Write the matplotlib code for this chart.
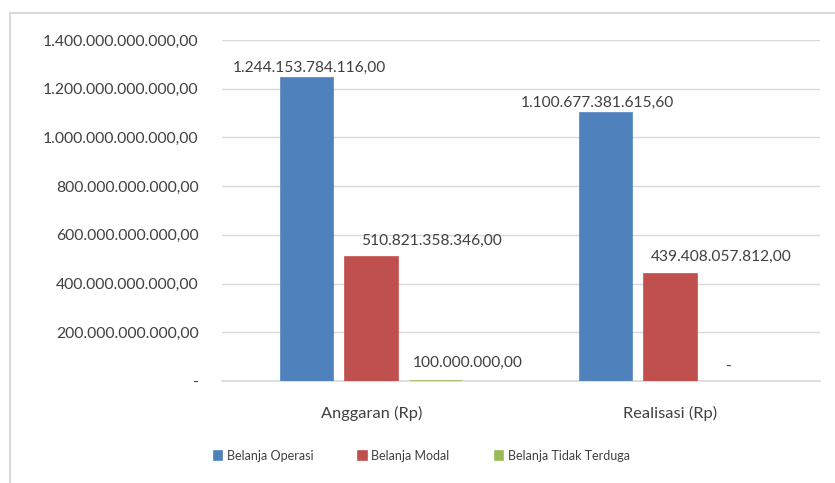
import matplotlib.pyplot as plt
from matplotlib.lines import Line2D
from matplotlib.ticker import FuncFormatter
import numpy as np

categories = ["Anggaran (Rp)", "Realisasi (Rp)"]
series_names = ["Belanja Operasi", "Belanja Modal", "Belanja Tidak Terduga"]
belanja_operasi = [1244153784116.00, 1100677381615.60]
belanja_modal = [510821358346.00, 439408057812.00]
belanja_tidak_terduga = [100000000.00, 0.0]
colors = ["#4F81BD", "#C0504D", "#9BBB59"]


def rupiah(v):
    if v == 0:
        return "-"
    s = "{:,.2f}".format(v)
    return s.replace(",", "X").replace(".", ",").replace("X", ".")


def main():
    plt.rcParams["font.family"] = ["Lato", "DejaVu Sans"]
    fig = plt.figure(figsize=(8.35, 4.83), dpi=100)
    ax = fig.add_axes([222 / 835, 1 - 381 / 483, 598 / 835, 341 / 483])

    x = np.arange(len(categories))
    width = 0.174
    step = 0.217
    series = [belanja_operasi, belanja_modal, belanja_tidak_terduga]
    # label placement (data-x offset from category, pixel offset above bar)
    label_dx = [[-0.209, 0.201, 0.321], [-0.244, 0.171, 0.194]]
    label_dy = [[10, 16, 18], [10, 17, 14]]
    for i, vals in enumerate(series):
        edges = [colors[i] if v > 0 else "none" for v in vals]
        ax.bar(x + (i - 1) * step, vals, width, color=colors[i], edgecolor=edges,
               linewidth=1.2, label=series_names[i], zorder=3)
        for j, v in enumerate(vals):
            ax.annotate(rupiah(v), (x[j] + label_dx[j][i], v),
                        xytext=(0, label_dy[j][i] * 0.72), textcoords="offset points",
                        ha="center", va="center", fontsize=11.2, color="#404040")

    ax.set_xlim(-0.5, 1.5)
    ax.set_ylim(0, 1.4e12)
    ax.set_yticks(np.arange(0, 1.41e12, 2e11))
    ax.yaxis.set_major_formatter(FuncFormatter(lambda v, p: rupiah(v)))
    ax.set_xticks(x)
    ax.set_xticklabels(categories)
    ax.tick_params(axis="y", length=0, pad=17, labelsize=11.3, labelcolor="#404040")
    ax.tick_params(axis="x", length=0, pad=18, labelsize=11.8, labelcolor="#404040")
    ax.grid(axis="y", color="#D9D9D9", linewidth=1, zorder=0)
    for side in ["left", "right", "top"]:
        ax.spines[side].set_visible(False)
    ax.spines["bottom"].set_color("#D9D9D9")
    ax.spines["bottom"].set_linewidth(1.2)

    fig.legend(loc="center", bbox_to_anchor=(0.505, 1 - 456 / 483), ncol=3,
               frameon=False, fontsize=9, handlelength=0.7, handleheight=0.7,
               columnspacing=3.6, handletextpad=0.35, labelcolor="#404040")

    fig.add_artist(Line2D([10 / 835, 1], [1 - 13 / 483, 1 - 13 / 483],
                          transform=fig.transFigure, color="#D9D9D9", linewidth=1.5))
    fig.add_artist(Line2D([10 / 835, 10 / 835], [0, 1 - 13 / 483],
                          transform=fig.transFigure, color="#D9D9D9", linewidth=1.5))

    fig.savefig("out.png", dpi=100)
    plt.close(fig)


if __name__ == "__main__":
    main()
